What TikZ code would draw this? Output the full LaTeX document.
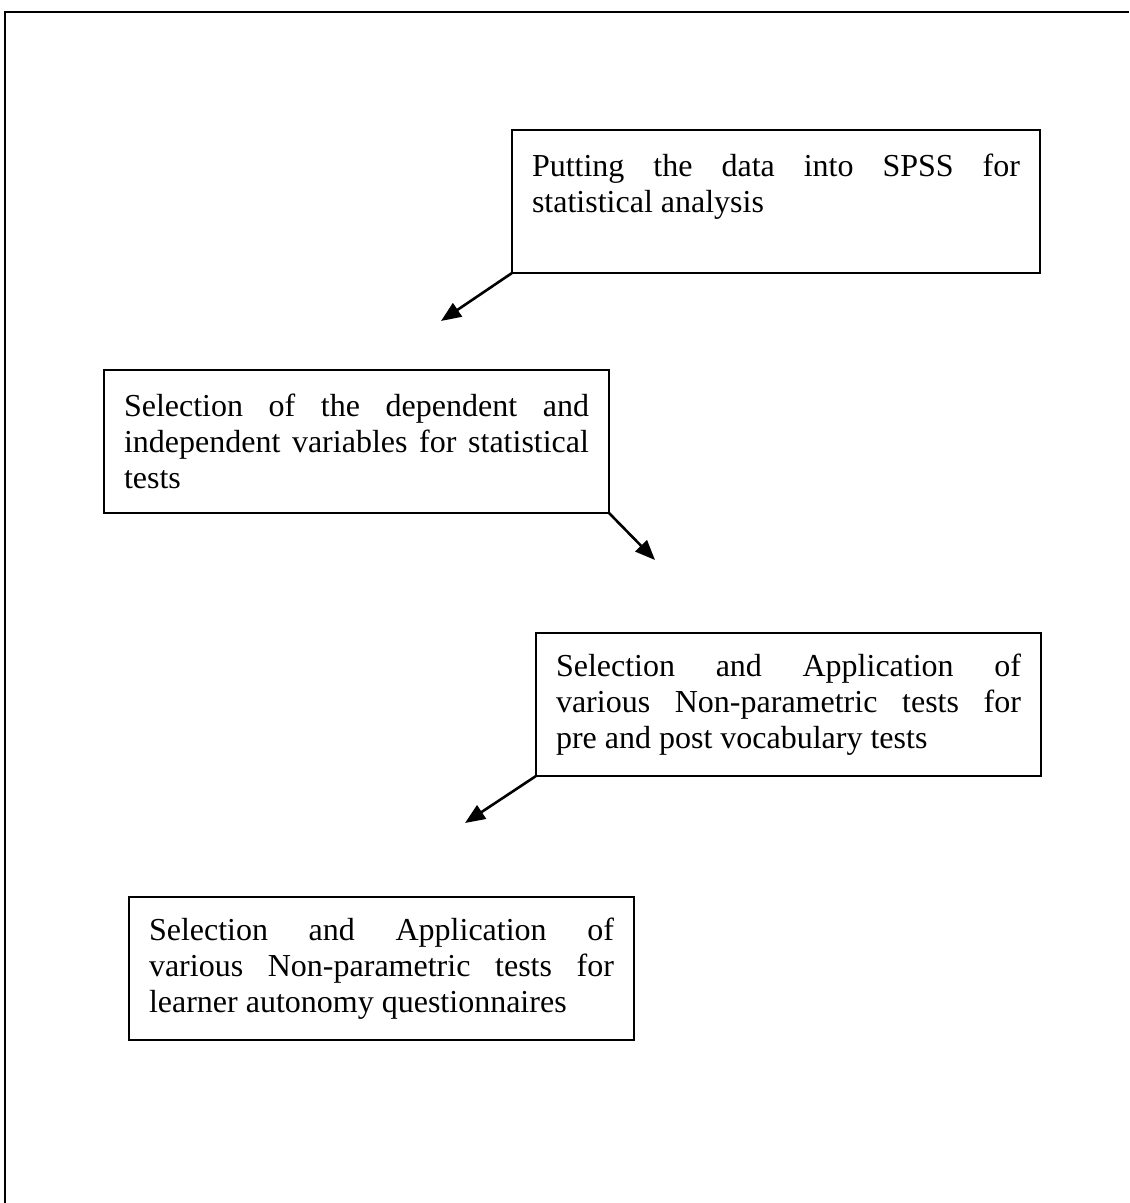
\documentclass[tikz,border=0pt]{standalone}
\usepackage{fontspec}
\setmainfont{Liberation Serif}
\usetikzlibrary{arrows.meta,positioning}
\hyphenpenalty=10000
\exhyphenpenalty=10000

\begin{document}
\begin{tikzpicture}[
  x=0.5pt, y=-0.5pt,
  box/.style={rectangle, draw, line width=1pt, outer sep=0pt, anchor=north west,
    inner xsep=10pt, minimum height=71.5pt, align=justify,
    font=\fontsize{16}{18}\selectfont},
  wide/.style={minimum width=264pt, text width=244pt},
  narrow/.style={minimum width=252.5pt, text width=232.5pt},
  ->, >={Triangle[length=10pt,width=8pt]}, line width=1.3pt
]

\useasboundingbox (0,0) rectangle (1129,1203);
\draw[line width=1pt, -] (5,1203) -- (5,12) -- (1129,12);

\node[box, wide] (spss) at (512,130)
  {Putting the data into SPSS for\linebreak statistical analysis\par\mbox{}};
\node[box, narrow] (vars) at (104,370)
  {Selection of the dependent and\linebreak independent variables for statistical\linebreak tests};
\node[box, narrow] (vocab) at (536,633)
  {Selection and Application of\linebreak various Non-parametric tests for\linebreak pre and post vocabulary tests};
\node[box, narrow] (autonomy) at (129,897)
  {Selection and Application of\linebreak various Non-parametric tests for\linebreak learner autonomy questionnaires};

\coordinate (tip1) at (441,321);
\coordinate (tip2) at (655,560);
\coordinate (tip3) at (465,823);

\draw (spss.south west) -- (tip1);
\draw (vars.south east) -- (tip2);
\draw (vocab.south west) -- (tip3);

\end{tikzpicture}
\end{document}
